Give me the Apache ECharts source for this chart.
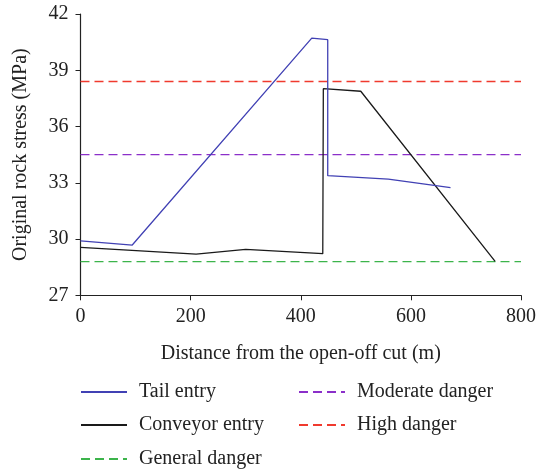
<!DOCTYPE html>
<html>
<head>
<meta charset="utf-8">
<script src="https://cdn.jsdelivr.net/npm/echarts@6/dist/echarts.min.js"></script>
<style>
  html, body { margin: 0; padding: 0; background: #fff; }
  #chart { width: 539px; height: 473px; }
</style>
</head>
<body>
<div id="chart"></div>
<script>
// Distance from the open-off cut (m) and original rock stress (MPa)
const tailX = [0, 94, 420, 449, 449, 559, 672];
const tailY = [29.9, 29.68, 40.71, 40.63, 33.38, 33.2, 32.74];
const convX = [0, 210, 300, 440, 441, 509, 753];
const convY = [29.56, 29.2, 29.45, 29.22, 38.02, 37.88, 28.81];

// Danger thresholds (MPa)
const generalDanger = 28.8;
const moderateDanger = 34.5;
const highDanger = 38.4;

const xRange = [0, 800];
const yRange = [27, 42];

const FONT = 'Liberation Serif';
const FS = 20;
const INK = '#222';

const zip = (xs, ys) => xs.map((x, i) => [x, ys[i]]);
const flat = v => xRange.map(x => [x, v]);

const chart = echarts.init(document.getElementById('chart'));

const lineSeries = (name, data, color, dashed) => ({
  name,
  type: 'line',
  data,
  symbol: 'none',
  silent: true,
  animation: false,
  lineStyle: { color, width: 1.3, type: dashed ? [9, 5] : 'solid' },
  itemStyle: { color }
});

// One legend entry per slot: two columns, three rows
const legendSlot = (name, left, top) => ({
  data: [name],
  left,
  top,
  padding: 0,
  itemWidth: 46,
  itemHeight: 14,
  itemStyle: { opacity: 0 },
  textStyle: { fontFamily: FONT, fontSize: FS, lineHeight: 20, color: INK, padding: [0, 0, 0, 7] }
});

chart.setOption({
  backgroundColor: '#fff',
  animation: false,
  grid: { left: 80.5, right: 15.7, top: 14, bottom: 177.7, containLabel: false },
  legend: [
    legendSlot('Tail entry', 80, 382),
    legendSlot('Conveyor entry', 80, 415),
    legendSlot('General danger', 80, 449),
    legendSlot('Moderate danger', 298, 382),
    legendSlot('High danger', 298, 415)
  ],
  xAxis: {
    type: 'value',
    min: xRange[0],
    max: xRange[1],
    interval: 200,
    name: 'Distance from the open-off cut (m)',
    nameLocation: 'middle',
    nameGap: 48,
    nameTextStyle: { fontFamily: FONT, fontSize: FS, color: INK },
    axisLine: { show: true, lineStyle: { color: INK, width: 1.2 } },
    axisTick: { show: true, inside: false, length: 5, lineStyle: { color: INK } },
    axisLabel: { fontFamily: FONT, fontSize: FS, color: INK, margin: 11 },
    splitLine: { show: false }
  },
  yAxis: {
    type: 'value',
    min: yRange[0],
    max: yRange[1],
    interval: 3,
    name: 'Original rock stress (MPa)',
    nameLocation: 'middle',
    nameGap: 50,
    nameTextStyle: { fontFamily: FONT, fontSize: FS, color: INK },
    axisLine: { show: true, lineStyle: { color: INK, width: 1.2 } },
    axisTick: { show: true, inside: false, length: 5, lineStyle: { color: INK } },
    axisLabel: { fontFamily: FONT, fontSize: FS, color: INK, margin: 12 },
    splitLine: { show: false }
  },
  series: [
    lineSeries('General danger', flat(generalDanger), '#3cb44b', true),
    lineSeries('Moderate danger', flat(moderateDanger), '#8b2fc9', true),
    lineSeries('High danger', flat(highDanger), '#f03a2e', true),
    lineSeries('Conveyor entry', zip(convX, convY), '#1a1a1a', false),
    lineSeries('Tail entry', zip(tailX, tailY), '#4141b4', false)
  ]
});
</script>
</body>
</html>
